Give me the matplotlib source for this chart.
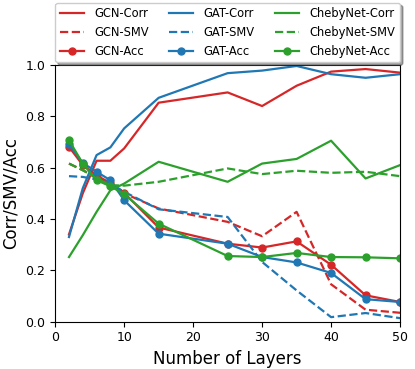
import numpy as np
import matplotlib
matplotlib.use("Agg")
import matplotlib.pyplot as plt

layers = [2, 4, 6, 8, 10, 15, 25, 30, 35, 40, 45, 50]

gcn_corr = [0.34, 0.50, 0.627, 0.627, 0.675, 0.853, 0.893, 0.840, 0.919, 0.974, 0.984, 0.970]
gcn_smv = [0.616, 0.590, 0.564, 0.538, 0.500, 0.441, 0.389, 0.333, 0.428, 0.146, 0.047, 0.035]
gcn_acc = [0.681, 0.610, 0.570, 0.540, 0.502, 0.367, 0.304, 0.289, 0.313, 0.222, 0.103, 0.077]

gat_corr = [0.33, 0.52, 0.649, 0.679, 0.753, 0.872, 0.968, 0.978, 0.996, 0.964, 0.950, 0.964]
gat_smv = [0.567, 0.564, 0.554, 0.538, 0.506, 0.438, 0.408, 0.233, 0.122, 0.018, 0.034, 0.014]
gat_acc = [0.692, 0.618, 0.584, 0.551, 0.473, 0.343, 0.304, 0.252, 0.231, 0.190, 0.088, 0.077]

cheb_corr = [0.252, 0.337, 0.428, 0.512, 0.538, 0.623, 0.545, 0.616, 0.634, 0.705, 0.558, 0.610]
cheb_smv = [0.616, 0.590, 0.558, 0.532, 0.530, 0.545, 0.597, 0.575, 0.588, 0.580, 0.584, 0.567]
cheb_acc = [0.707, 0.616, 0.551, 0.528, 0.497, 0.382, 0.256, 0.252, 0.268, 0.252, 0.251, 0.247]

models = ["GCN", "GAT", "ChebyNet"]
colors = ["#d62728", "#1f77b4", "#2ca02c"]
series = [(gcn_corr, gcn_smv, gcn_acc), (gat_corr, gat_smv, gat_acc), (cheb_corr, cheb_smv, cheb_acc)]

fig = plt.figure(figsize=(4.15, 3.69), dpi=100)
ax = fig.add_axes([0.133, 0.128, 0.831, 0.696])

for name, col, (corr, smv, acc) in zip(models, colors, series):
    ax.plot(layers, corr, color=col, lw=1.6, label=name + "-Corr")
    ax.plot(layers, smv, color=col, lw=1.6, ls="--", label=name + "-SMV")
    ax.plot(layers, acc, color=col, lw=1.6, marker="o", ms=5, label=name + "-Acc")

ax.set_xlim(0, 50)
ax.set_ylim(0, 1)
ax.set_xticks([0, 10, 20, 30, 40, 50])
ax.set_yticks([0, 0.2, 0.4, 0.6, 0.8, 1.0])
ax.tick_params(labelsize=9)
ax.set_xlabel("Number of Layers", fontsize=12)
ax.set_ylabel("Corr/SMV/Acc", fontsize=12)

ax.legend(ncol=3, loc="lower left", bbox_to_anchor=(0, 1.01, 1, 0.2), mode="expand",
          shadow=True, fontsize=8.3, borderaxespad=0, handlelength=2.1, handletextpad=0.9)

fig.savefig("out.png", dpi=100)
